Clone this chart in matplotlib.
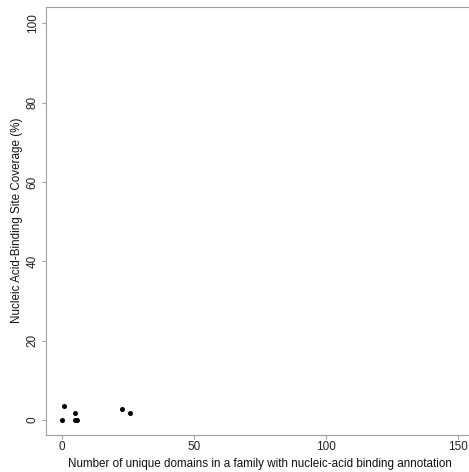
import matplotlib
matplotlib.use('Agg')
import matplotlib.pyplot as plt

plt.rcParams['font.family'] = ['Liberation Sans', 'DejaVu Sans']

# data
n_domains = [0, 1, 5, 5, 6, 23, 26]
coverage = [0, 3.6, 1.7, 0, 0, 2.8, 1.85]

x_ticks = [0, 50, 100, 150]
y_ticks = [0, 20, 40, 60, 80, 100]

fig = plt.figure(figsize=(4.69, 4.72), dpi=100)
ax = fig.add_axes([45.7 / 469, 37.5 / 472, (474.2 - 45.7) / 469, (465.5 - 37.5) / 472])

ax.scatter(n_domains, coverage, s=13, color='black', linewidths=0, zorder=3)

ax.set_xlim(-6, 156)
ax.set_ylim(-3.65, 104.2)
ax.set_xticks(x_ticks)
ax.set_yticks(y_ticks)
ax.set_yticklabels([str(v) for v in y_ticks], rotation=90, va='center')

for s in ax.spines.values():
    s.set_color('#a0a0a0')
    s.set_linewidth(0.8)
ax.tick_params(colors='#a0a0a0', labelcolor='#222222', labelsize=8.5, length=3, width=0.8, pad=2)

ax.set_xlabel('Number of unique domains in a family with nucleic-acid binding annotation',
              fontsize=8.4, color='#111111', labelpad=3)
ax.set_ylabel('Nucleic Acid-Binding Site Coverage (%)', fontsize=8.4, color='#111111', labelpad=3)

fig.savefig('out.png', dpi=100)
